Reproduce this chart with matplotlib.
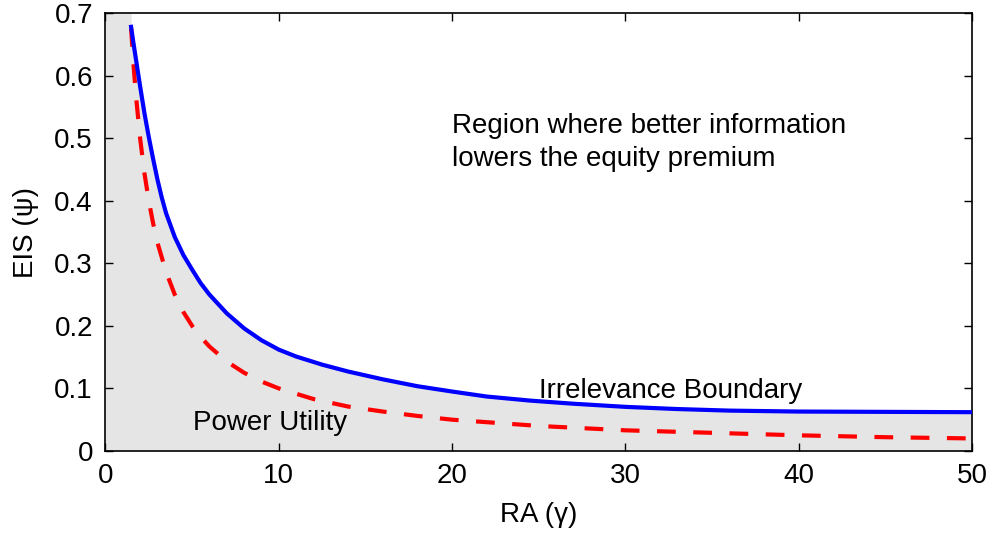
import matplotlib
matplotlib.use("Agg")
import matplotlib.pyplot as plt

plt.rcParams['font.family'] = ['Liberation Sans', 'DejaVu Sans']

# Irrelevance boundary (blue, solid)
blue_x = [1.48, 1.6, 1.75, 2.0, 2.25, 2.5, 2.75, 3.0, 3.25, 3.5, 4.0, 4.5, 5.0, 5.5, 6.0,
          7.0, 8.0, 9.0, 10.0, 11.0, 12.5, 14.0, 16.0, 18.0, 20.0, 22.0, 24.5, 27.0,
          30.0, 33.0, 36.0, 40.0, 45.0, 50.0]
blue_y = [0.678, 0.655, 0.628, 0.583, 0.540, 0.502, 0.467, 0.434, 0.405, 0.380, 0.342,
          0.313, 0.290, 0.268, 0.250, 0.220, 0.196, 0.177, 0.162, 0.151, 0.138, 0.127,
          0.1145, 0.1035, 0.095, 0.087, 0.0805, 0.0755, 0.0705, 0.067, 0.0645, 0.063,
          0.0625, 0.062]

# Power utility (red, dashed)
red_x = [1.48, 1.6, 1.75, 2.0, 2.25, 2.5, 2.75, 3.0, 3.5, 4.0, 4.5, 5.0, 5.5, 6.0, 7.0,
         8.0, 9.0, 10.0, 12.0, 14.0, 16.0, 18.0, 20.0, 25.0, 30.0, 35.0, 40.0, 45.0, 50.0]
red_y = [0.676, 0.625, 0.571, 0.500, 0.444, 0.400, 0.364, 0.333, 0.286, 0.250, 0.222,
         0.200, 0.182, 0.167, 0.143, 0.125, 0.111, 0.100, 0.083, 0.071, 0.063, 0.056,
         0.050, 0.040, 0.033, 0.029, 0.025, 0.022, 0.020]

xticks = [0, 10, 20, 30, 40, 50]
yticks = [0, 0.1, 0.2, 0.3, 0.4, 0.5, 0.6, 0.7]
ytick_labels = ['0', '0.1', '0.2', '0.3', '0.4', '0.5', '0.6', '0.7']

FS = 20

fig = plt.figure(figsize=(9.9, 5.34), dpi=100)
ax = fig.add_axes([0.1065, 0.1555, 0.8755, 0.82])

ax.fill_between([0.0, blue_x[0]] + blue_x, [0.7, 0.7] + blue_y, 0,
                color='#e5e5e5', lw=0, zorder=0)

ax.plot(blue_x, blue_y, color='#0000ff', lw=3.0, zorder=3)
ax.plot(red_x, red_y, color='#ff0000', lw=3.0, dashes=(4.5, 4.2), zorder=2)

ax.text(20.0, 0.509, 'Region where better information', fontsize=FS, va='baseline', ha='left')
ax.text(20.0, 0.455, 'lowers the equity premium', fontsize=FS, va='baseline', ha='left')
ax.text(25.0, 0.085, 'Irrelevance Boundary', fontsize=FS, va='baseline', ha='left')
ax.text(5.05, 0.034, 'Power Utility', fontsize=FS, va='baseline', ha='left')

ax.set_xlim(0, 50)
ax.set_ylim(0, 0.7)
ax.set_xticks(xticks)
ax.set_yticks(yticks)
ax.set_yticklabels(ytick_labels)
ax.tick_params(direction='in', top=True, right=True, labelsize=FS, length=6, width=1, pad=9)
for s in ax.spines.values():
    s.set_linewidth(1.2)
ax.set_xlabel('RA (\u03b3)', fontsize=FS, labelpad=9)
ax.set_ylabel('EIS (\u03c8)', fontsize=FS, labelpad=11)

fig.savefig('out.png', dpi=100)
